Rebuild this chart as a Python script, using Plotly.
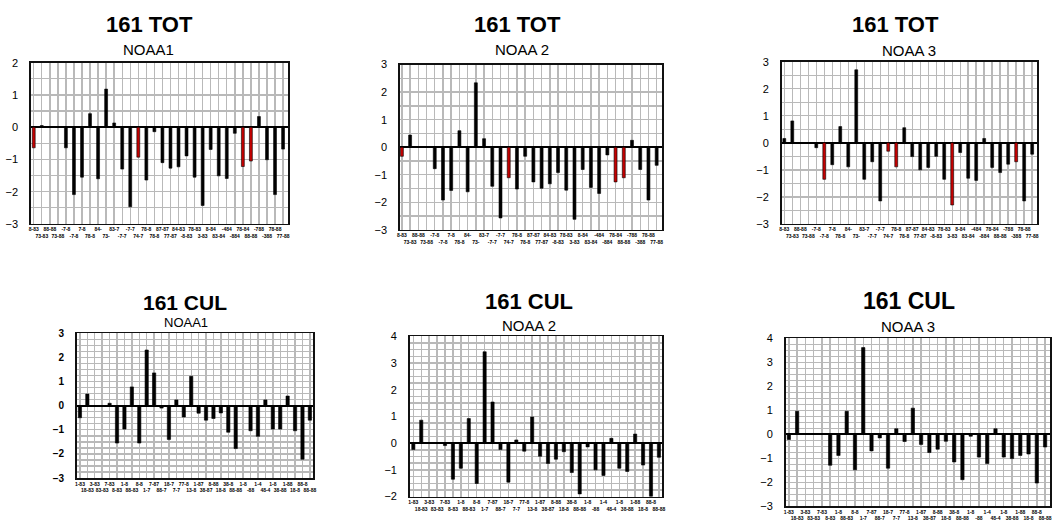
import plotly.graph_objects as go

W, H = 1061, 527

# ---------------- data ----------------
tot_labels = ["8-83", "73-83", "88-88", "73-88", "-7-8", "-7-8", "7-8", "78-8",
              "84-", "73-", "83-7", "-7-7", "-7-7", "74-7", "78-8", "78-8",
              "87-87", "77-87", "84-83", "-8-83", "78-83", "3-83", "8-84", "83-84",
              "-484", "-884", "78-84", "88-88", "-788", "-388", "78-88", "77-88"]
cul_labels = ["1-83", "18-83", "3-83", "83-83", "7-83", "8-83", "1-8", "88-83",
              "8-8", "1-7", "7-87", "88-7", "18-7", "7-7", "77-8", "13-8",
              "1-87", "38-87", "8-88", "18-8", "38-8", "88-88", "1-8", "-88",
              "1-4", "48-4", "1-8", "38-88", "1-88", "18-8", "88-8", "88-88"]

tot_noaa1 = [-0.64, 0.05, None, None, -0.64, -2.09, -1.55, 0.42, -1.60, 1.18, 0.13, -1.30,
             -2.47, -0.93, -1.64, -0.14, -1.10, -1.27, -1.23, -0.89, -1.55, -2.43, -0.69, -1.51,
             -1.59, -0.19, -1.22, -1.05, 0.33, -1.01, -2.09, -0.68]
tot_noaa2 = [-0.33, 0.44, None, None, -0.78, -1.92, -1.57, 0.60, -1.62, 2.34, 0.31, -1.42,
             -2.57, -1.11, -1.52, -0.33, -1.26, -1.49, -1.33, -0.92, -1.56, -2.62, -0.81, -1.46,
             -1.68, -0.28, -1.26, -1.11, 0.25, -0.81, -1.92, -0.66]
tot_noaa3 = [0.16, 0.81, None, None, -0.18, -1.35, -0.81, 0.60, -0.89, 2.70, -1.35, -0.70,
             -2.15, -0.31, -0.89, 0.56, -0.51, -1.00, -0.91, -0.50, -1.35, -2.30, -0.36, -1.31,
             -1.39, 0.16, -0.91, -1.10, -0.79, -0.70, -2.15, -0.42]
cul_noaa1 = [-0.50, 0.48, None, None, 0.10, -1.55, -0.97, 0.78, -1.55, 2.31, 1.36, -0.10,
             -1.40, 0.24, -0.47, 1.22, -0.31, -0.60, -0.53, -0.30, -1.10, -1.78, None, -1.04,
             -1.27, 0.24, -0.97, -0.97, 0.40, -1.04, -2.22, -0.60]
cul_noaa2 = [-0.24, 0.86, None, None, -0.09, -1.35, -0.94, 0.92, -1.51, 3.42, 1.54, -0.24,
             -1.46, 0.12, -0.30, 0.98, -0.49, -0.76, -0.60, -0.32, -1.10, -1.90, -0.14, -1.00,
             -1.21, 0.18, -0.94, -1.06, 0.34, -0.82, -2.00, -0.53]
cul_noaa3 = [-0.22, 0.96, None, None, None, -1.29, -0.88, 0.96, -1.48, 3.61, -0.69, -0.15,
             -1.41, 0.23, -0.30, 1.09, -0.42, -0.76, -0.62, -0.29, -1.15, -1.89, -0.08, -0.95,
             -1.22, 0.23, -0.95, -1.01, -0.88, -0.82, -2.03, -0.53]

# indices of the bars drawn in red
red_tot1 = [0, 13, 26, 27]
red_tot2 = [0, 13, 26, 27]
red_tot3 = [5, 13, 14, 21, 29]

titles = ["161 TOT", "161 TOT", "161 TOT", "161 CUL", "161 CUL", "161 CUL"]
subtitles = ["NOAA1", "NOAA 2", "NOAA 3", "NOAA1", "NOAA 2", "NOAA 3"]

# ---------------- layout helpers ----------------
def px_x(v):
    return v / W

def px_y(v):
    return 1 - v / H

GRID = "#b9b9b9"

panels = [
    dict(v=tot_noaa1, lab=tot_labels, red=red_tot1, box=(28, 287, 58, 223), xr=(-0.36, 31.66), yr=(-3, 2),
         minor=0.5, bw=0.36, t=(147.5, 19, 22), s=(146, 45, 15), lf=11, bold=False),
    dict(v=tot_noaa2, lab=tot_labels, red=red_tot2, box=(399, 663, 60, 229), xr=(-0.26, 31.68), yr=(-3, 3),
         minor=0.5, bw=0.36, t=(517.5, 19, 22), s=(522, 45, 15), lf=11, bold=False),
    dict(v=tot_noaa3, lab=tot_labels, red=red_tot3, box=(783, 1040, 57, 223), xr=(-0.34, 31.62), yr=(-3, 3),
         minor=0.5, bw=0.36, t=(898, 18.5, 22), s=(911, 46, 15), lf=11, bold=False),
    dict(v=cul_noaa1, lab=cul_labels, red=[], box=(74, 312, 335, 483), xr=(-0.45, 31.45), yr=(-3, 3),
         minor=0.25, bw=0.44, t=(183.5, 303, 21), s=(184, 324, 13), lf=10, bold=True),
    dict(v=cul_noaa2, lab=cul_labels, red=[], box=(409, 663, 338, 502), xr=(-0.46, 31.42), yr=(-2, 4),
         minor=0.25, bw=0.40, t=(528.5, 302, 22), s=(529, 327, 15), lf=11, bold=False),
    dict(v=cul_noaa3, lab=cul_labels, red=[], box=(787, 1053, 340, 512), xr=(-0.40, 31.60), yr=(-3, 4),
         minor=0.25, bw=0.40, t=(911, 302, 23), s=(910, 328, 15), lf=11, bold=False),
]

fig = go.Figure()
annotations = []
layout_axes = {}

for i, p in enumerate(panels, start=1):
    xs = list(range(len(p["lab"])))
    colors = ["#c40000" if k in p["red"] else "#000000" for k in xs]
    fig.add_trace(go.Bar(
        x=xs, y=p["v"], width=p["bw"],
        marker=dict(color=colors, line=dict(color="#000000", width=0.6)),
        xaxis=f"x{i}", yaxis=f"y{i}", showlegend=False,
    ))
    l, r, t, b = p["box"]
    ticktext = [lab if k % 2 == 0 else "<br>" + lab for k, lab in enumerate(p["lab"])]
    xa = dict(
        domain=[px_x(l), px_x(r)], anchor=f"y{i}", range=list(p["xr"]),
        tickmode="array", tickvals=xs, ticktext=ticktext, tickangle=0,
        tickfont=dict(family="Liberation Sans", size=5, color="#000000", weight="bold"),
        showgrid=True, gridcolor=GRID, gridwidth=1.4,
        showline=True, linecolor="#111111", linewidth=1.5, mirror=True,
        ticks="", zeroline=False, fixedrange=True,
    )
    ya = dict(
        domain=[px_y(b), px_y(t)], anchor=f"x{i}", range=list(p["yr"]),
        dtick=1, tick0=0, ticks="", ticklabelstandoff=9,
        tickfont=dict(family="Liberation Sans", size=p["lf"], color="#000000",
                      weight="bold" if p["bold"] else "normal"),
        showgrid=True, gridcolor=GRID, gridwidth=1.4,
        minor=dict(dtick=p["minor"], showgrid=True, gridcolor=GRID, gridwidth=1.4),
        showline=True, linecolor="#111111", linewidth=1.5, mirror=True,
        zeroline=True, zerolinecolor="#000000", zerolinewidth=1.8, fixedrange=True,
    )
    layout_axes["xaxis" if i == 1 else f"xaxis{i}"] = xa
    layout_axes["yaxis" if i == 1 else f"yaxis{i}"] = ya

    tx, ty, ts = p["t"]
    annotations.append(dict(text=titles[i - 1], x=px_x(tx), y=px_y(ty), xref="paper", yref="paper",
                            xanchor="center", yanchor="middle", showarrow=False,
                            font=dict(family="Liberation Sans", size=ts, color="#000000", weight="bold")))
    sx, sy, ss = p["s"]
    annotations.append(dict(text=subtitles[i - 1], x=px_x(sx), y=px_y(sy), xref="paper", yref="paper",
                            xanchor="center", yanchor="middle", showarrow=False,
                            font=dict(family="Liberation Sans", size=ss, color="#000000")))

fig.update_layout(
    width=W, height=H, autosize=False,
    margin=dict(l=0, r=0, t=0, b=0),
    paper_bgcolor="#ffffff", plot_bgcolor="#ffffff",
    bargap=0, annotations=annotations, hovermode=False,
    **layout_axes,
)

fig.write_html(
    "out.html",
    config={"displayModeBar": False, "staticPlot": True},
    post_script="document.body.style.margin='0';document.body.style.padding='0';"
                "document.documentElement.style.overflow='hidden';",
)
